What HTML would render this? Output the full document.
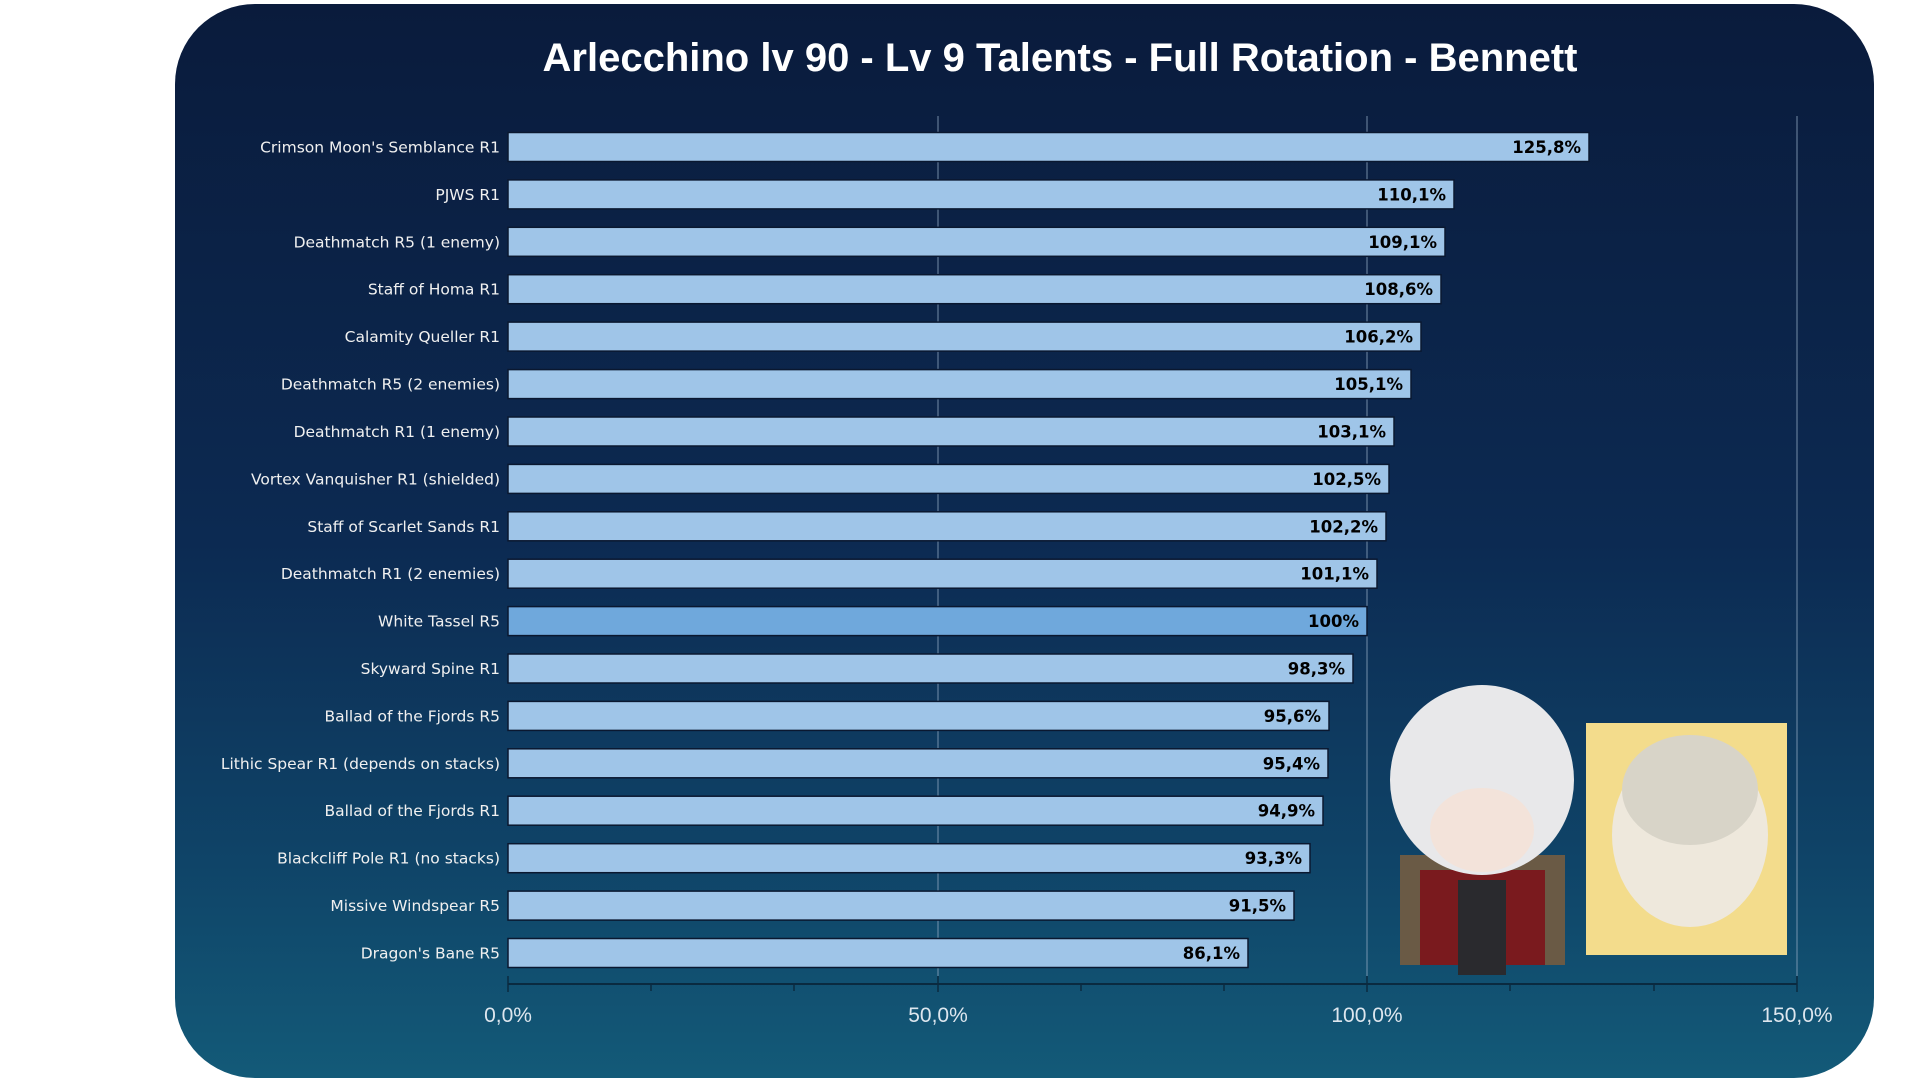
<!DOCTYPE html>
<html><head><meta charset="utf-8"><style>
html,body{margin:0;padding:0;background:#fff;width:1920px;height:1080px;overflow:hidden}
</style></head><body>
<svg width="1920" height="1080" viewBox="0 0 1920 1080" xmlns="http://www.w3.org/2000/svg" font-family="DejaVu Sans, Liberation Sans, sans-serif">
<defs>
<linearGradient id="bg" x1="0" y1="0" x2="0" y2="1">
<stop offset="0" stop-color="#0a1b3c"/>
<stop offset="0.5" stop-color="#0c2a52"/>
<stop offset="0.8" stop-color="#0f4468"/>
<stop offset="1" stop-color="#135a78"/>
</linearGradient>
</defs>
<rect x="175" y="4" width="1699" height="1074" rx="80" fill="url(#bg)"/>
<text x="1060" y="71" text-anchor="middle" font-size="40" font-weight="bold" fill="#fff" font-family="Liberation Sans, sans-serif">Arlecchino lv 90 - Lv 9 Talents - Full Rotation - Bennett</text>
<g stroke="#8ea6bf" stroke-width="1" opacity="0.8">
<line x1="938" y1="116" x2="938" y2="984"/>
<line x1="1367" y1="116" x2="1367" y2="984"/>
<line x1="1797" y1="116" x2="1797" y2="984"/>
</g>
<g stroke="#0a1830" stroke-width="1.5">
<rect x="508" y="132.5" width="1081" height="29" fill="#9fc5e8"/>
<rect x="508" y="179.9" width="946" height="29" fill="#9fc5e8"/>
<rect x="508" y="227.3" width="937" height="29" fill="#9fc5e8"/>
<rect x="508" y="274.7" width="933" height="29" fill="#9fc5e8"/>
<rect x="508" y="322.1" width="913" height="29" fill="#9fc5e8"/>
<rect x="508" y="369.6" width="903" height="29" fill="#9fc5e8"/>
<rect x="508" y="417.0" width="886" height="29" fill="#9fc5e8"/>
<rect x="508" y="464.4" width="881" height="29" fill="#9fc5e8"/>
<rect x="508" y="511.8" width="878" height="29" fill="#9fc5e8"/>
<rect x="508" y="559.2" width="869" height="29" fill="#9fc5e8"/>
<rect x="508" y="606.6" width="859" height="29" fill="#6fa8dc"/>
<rect x="508" y="654.0" width="845" height="29" fill="#9fc5e8"/>
<rect x="508" y="701.4" width="821" height="29" fill="#9fc5e8"/>
<rect x="508" y="748.8" width="820" height="29" fill="#9fc5e8"/>
<rect x="508" y="796.2" width="815" height="29" fill="#9fc5e8"/>
<rect x="508" y="843.7" width="802" height="29" fill="#9fc5e8"/>
<rect x="508" y="891.1" width="786" height="29" fill="#9fc5e8"/>
<rect x="508" y="938.5" width="740" height="29" fill="#9fc5e8"/>
</g>
<g font-size="15.5" fill="#f0f0f0" text-anchor="end">
<text x="500" y="152.5">Crimson Moon's Semblance R1</text>
<text x="500" y="199.9">PJWS R1</text>
<text x="500" y="247.3">Deathmatch R5 (1 enemy)</text>
<text x="500" y="294.7">Staff of Homa R1</text>
<text x="500" y="342.1">Calamity Queller R1</text>
<text x="500" y="389.6">Deathmatch R5 (2 enemies)</text>
<text x="500" y="437.0">Deathmatch R1 (1 enemy)</text>
<text x="500" y="484.4">Vortex Vanquisher R1 (shielded)</text>
<text x="500" y="531.8">Staff of Scarlet Sands R1</text>
<text x="500" y="579.2">Deathmatch R1 (2 enemies)</text>
<text x="500" y="626.6">White Tassel R5</text>
<text x="500" y="674.0">Skyward Spine R1</text>
<text x="500" y="721.4">Ballad of the Fjords R5</text>
<text x="500" y="768.8">Lithic Spear R1 (depends on stacks)</text>
<text x="500" y="816.2">Ballad of the Fjords R1</text>
<text x="500" y="863.7">Blackcliff Pole R1 (no stacks)</text>
<text x="500" y="911.1">Missive Windspear R5</text>
<text x="500" y="958.5">Dragon's Bane R5</text>
</g>
<g font-size="16.5" font-weight="bold" fill="#000" text-anchor="end">
<text x="1581" y="153">125,8%</text>
<text x="1446" y="200.4">110,1%</text>
<text x="1437" y="247.8">109,1%</text>
<text x="1433" y="295.2">108,6%</text>
<text x="1413" y="342.6">106,2%</text>
<text x="1403" y="390.1">105,1%</text>
<text x="1386" y="437.5">103,1%</text>
<text x="1381" y="484.9">102,5%</text>
<text x="1378" y="532.3">102,2%</text>
<text x="1369" y="579.7">101,1%</text>
<text x="1359" y="627.1">100%</text>
<text x="1345" y="674.5">98,3%</text>
<text x="1321" y="721.9">95,6%</text>
<text x="1320" y="769.3">95,4%</text>
<text x="1315" y="816.7">94,9%</text>
<text x="1302" y="864.2">93,3%</text>
<text x="1286" y="911.6">91,5%</text>
<text x="1240" y="959">86,1%</text>
</g>
<line x1="508" y1="984" x2="1797" y2="984" stroke="#0a2a40" stroke-width="2"/>
<g stroke="#0a2a40" stroke-width="1.5">
<line x1="508" y1="976" x2="508" y2="992"/><line x1="651" y1="984" x2="651" y2="991"/><line x1="794" y1="984" x2="794" y2="991"/>
<line x1="938" y1="976" x2="938" y2="992"/><line x1="1081" y1="984" x2="1081" y2="991"/><line x1="1224" y1="984" x2="1224" y2="991"/>
<line x1="1367" y1="976" x2="1367" y2="992"/><line x1="1510" y1="984" x2="1510" y2="991"/><line x1="1654" y1="984" x2="1654" y2="991"/>
<line x1="1797" y1="976" x2="1797" y2="992"/>
</g>
<g font-size="21" fill="#dde6ee" text-anchor="middle" font-family="Liberation Sans, sans-serif">
<text x="508" y="1022">0,0%</text><text x="938" y="1022">50,0%</text><text x="1367" y="1022">100,0%</text><text x="1797" y="1022">150,0%</text>
</g>
<!-- character art placeholders -->
<rect x="1586" y="723" width="201" height="232" fill="#f3dc8c"/>
<ellipse cx="1690" cy="835" rx="78" ry="92" fill="#eee8dc"/>
<ellipse cx="1690" cy="790" rx="68" ry="55" fill="#d8d4c8"/>
<rect x="1400" y="855" width="165" height="110" fill="#6a5a45"/>
<rect x="1420" y="870" width="125" height="95" fill="#7a1a1e"/>
<ellipse cx="1482" cy="780" rx="92" ry="95" fill="#e8e8ea"/>
<ellipse cx="1482" cy="830" rx="52" ry="42" fill="#f3e3da"/>
<rect x="1458" y="880" width="48" height="95" fill="#2a2a2e"/>
</svg>
</body></html>
